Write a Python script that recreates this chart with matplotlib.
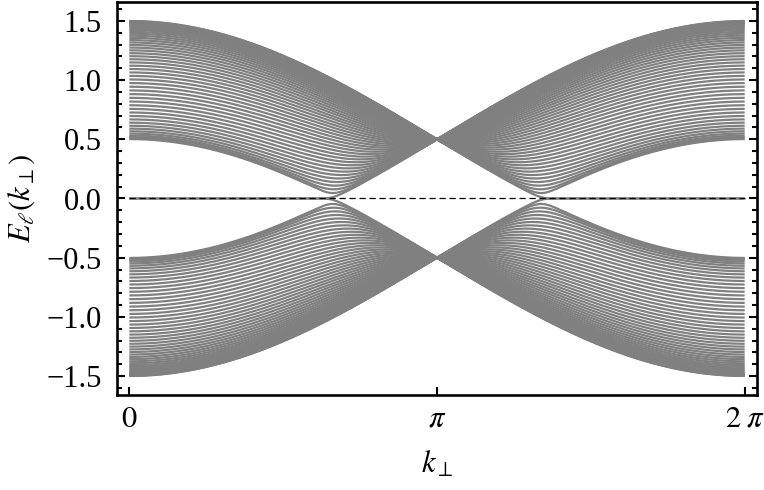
import matplotlib
matplotlib.use("Agg")
import matplotlib.pyplot as plt
import numpy as np
from matplotlib.ticker import FixedLocator, MultipleLocator, FuncFormatter

# values
n_cells = 50            # bulk lines per band (counted)
hop_intra = 0.5         # all levels collapse to +-0.5 at k = pi
hop_inter_max = 1.0     # band runs 0.5 .. 1.5 at k = 0
k_vals = np.linspace(0, 2 * np.pi, 601)
y_ticks = [-1.5, -1.0, -0.5, 0.0, 0.5, 1.0, 1.5]
x_ticks = [0, np.pi, 2 * np.pi]
x_ticklabels = [r"$0$", r"$\pi$", r"$2\;\pi$"]

# open two-site chain, intercell hopping set by k
n_sites = 2 * n_cells
bond_is_intra = (np.arange(n_sites - 1) % 2 == 0)
energies = []
for k in k_vals:
    bonds = np.where(bond_is_intra, hop_intra, hop_inter_max * abs(np.cos(k / 2)))
    h = np.diag(bonds, 1) + np.diag(bonds, -1)
    energies.append(np.linalg.eigvalsh(h))
energies = np.array(energies)

plt.rcParams["font.family"] = ["Liberation Serif", "DejaVu Serif"]
plt.rcParams["mathtext.fontset"] = "stix"

fig = plt.figure(figsize=(7.64, 4.90), dpi=100)
ax = fig.add_axes([117 / 764, 1 - 395 / 490, 640 / 764, 393 / 490])

ax.plot(k_vals, energies, color="#808080", lw=1.6, solid_capstyle="butt")
ax.hlines(0, k_vals[0], k_vals[-1], color="black", lw=0.9,
          linestyles=(0, (5, 3)), zorder=3)

ax.set_xlim(-0.126, 2 * np.pi + 0.126)
ax.set_ylim(-1.66, 1.66)

ax.xaxis.set_major_locator(FixedLocator(x_ticks))
ax.set_xticklabels(x_ticklabels)
ax.yaxis.set_major_locator(FixedLocator(y_ticks))
ax.yaxis.set_minor_locator(MultipleLocator(0.1))
ax.yaxis.set_major_formatter(FuncFormatter(lambda v, p: f"{v:.1f}".replace("-", "\u2212")))

ax.tick_params(axis="both", which="both", direction="in", width=1.5,
               labelsize=22, colors="black")
ax.tick_params(axis="y", which="major", length=6, pad=11, right=True)
ax.tick_params(axis="y", which="minor", length=3.5, right=True)
ax.tick_params(axis="x", which="major", length=6, pad=7, top=False)
for s in ax.spines.values():
    s.set_linewidth(1.9)

ax.set_ylabel(r"$E_\ell(k_\perp)$", fontsize=22)
ax.set_xlabel(r"$k_\perp$", fontsize=22)
ax.yaxis.set_label_coords(-0.125, 0.5)
ax.xaxis.set_label_coords(0.5, -0.14)

fig.savefig("out.png", dpi=100)
